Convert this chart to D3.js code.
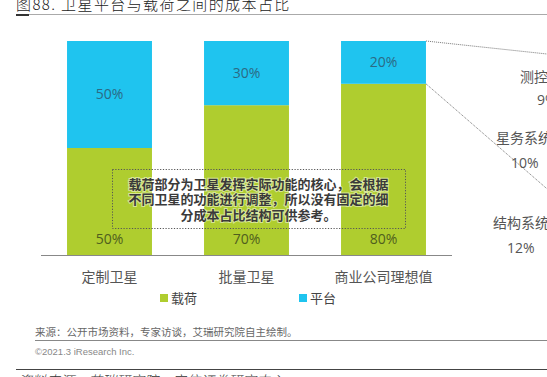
<!DOCTYPE html>
<html>
<head>
<meta charset="utf-8">
<script src="https://cdn.jsdelivr.net/npm/d3@7"></script>
<style>
  html, body { margin: 0; padding: 0; background: #fff; }
  svg { display: block; font-family: "Open Sans", "Noto Sans CJK SC", sans-serif; }
</style>
</head>
<body>
<svg id="chart" width="547" height="377"></svg>
<script>
// data
const categories = ['定制卫星', '批量卫星', '商业公司理想值'];
const payload = [50, 70, 80];    // 载荷
const platform = [50, 30, 20];   // 平台
const seriesNames = ['载荷', '平台'];
const platformParts = ['测控系统', '星务系统', '结构系统'];
const platformPartValues = [9, 10, 12];
const noteLines = [
  '载荷部分为卫星发挥实际功能的核心，会根据',
  '不同卫星的功能进行调整，所以没有固定的细',
  '分成本占比结构可供参考。'
];

const W = 547, H = 377;
const green = '#afcd2f', blue = '#1fc4ef';
const svg = d3.select('#chart');

const x = d3.scaleBand()
  .domain(categories)
  .range([41, 452])
  .paddingInner(0.38)
  .paddingOuter(0.19);
const y = d3.scaleLinear().domain([0, 100]).range([255, 41]);

// title
svg.append('text')
  .attr('x', 16).attr('y', 10)
  .attr('font-family', '"Noto Sans CJK SC", sans-serif')
  .attr('font-weight', 300)
  .attr('font-size', 15)
  .attr('letter-spacing', 1.4)
  .attr('fill', '#222')
  .text('图88. 卫星平台与载荷之间的成本占比');
svg.append('line').attr('x1', 16).attr('x2', W).attr('y1', 14.5).attr('y2', 14.5)
  .attr('stroke', '#aaa').attr('stroke-width', 1);
svg.append('rect').attr('x', 16).attr('y', 14).attr('width', 13).attr('height', 2).attr('fill', '#333');

// stacked bars
const stacked = categories.map((c, i) => ({ cat: c, payload: payload[i], platform: platform[i] }));
const stack = d3.stack().keys(['payload', 'platform'])(stacked);
const colors = { payload: green, platform: blue };

svg.append('g').selectAll('g')
  .data(stack)
  .join('g')
  .attr('fill', d => colors[d.key])
  .selectAll('rect')
  .data(d => d)
  .join('rect')
  .attr('x', d => x(d.data.cat))
  .attr('width', x.bandwidth())
  .attr('y', d => y(d[1]))
  .attr('height', d => y(d[0]) - y(d[1]));

// value labels
svg.append('g').selectAll('text')
  .data(stacked)
  .join('text')
  .attr('x', d => x(d.cat) + x.bandwidth() / 2)
  .attr('y', d => (y(d.payload) + y(100)) / 2)
  .attr('dy', '0.35em')
  .attr('text-anchor', 'middle')
  .attr('font-size', 14)
  .attr('fill', '#2b6a85')
  .text(d => d.platform + '%');
svg.append('g').selectAll('text')
  .data(stacked)
  .join('text')
  .attr('x', d => x(d.cat) + x.bandwidth() / 2)
  .attr('y', y(0) - 16)
  .attr('dy', '0.35em')
  .attr('text-anchor', 'middle')
  .attr('font-size', 14)
  .attr('fill', '#4f5e1e')
  .text(d => d.payload + '%');

// axis
const xAxis = svg.append('g')
  .attr('transform', `translate(0,${y(0)})`)
  .call(d3.axisBottom(x).tickSize(0).tickPadding(17));
xAxis.select('.domain').attr('stroke', '#888').attr('d', `M41,0.5H452`);
xAxis.selectAll('text')
  .attr('font-family', '"Noto Sans CJK SC", sans-serif')
  .attr('font-size', 14).attr('fill', '#555');

// legend
const legendX = [160, 299];
const lg = svg.append('g').selectAll('g')
  .data(seriesNames)
  .join('g')
  .attr('transform', (d, i) => `translate(${legendX[i]},298)`);
lg.append('rect').attr('x', 0).attr('y', -4).attr('width', 8).attr('height', 8)
  .attr('fill', (d, i) => i === 0 ? green : blue);
lg.append('text').attr('x', 11).attr('dy', '0.35em')
  .attr('font-family', '"Noto Sans CJK SC", sans-serif')
  .attr('font-size', 13).attr('fill', '#444')
  .text(d => d);

// note box
svg.append('rect')
  .attr('x', 112.5).attr('y', 169.5).attr('width', 293).attr('height', 59)
  .attr('fill', 'none').attr('stroke', '#555').attr('stroke-width', 1)
  .attr('stroke-dasharray', '1.2,1.6');
svg.append('g').selectAll('text')
  .data(noteLines)
  .join('text')
  .attr('x', 258.5)
  .attr('y', (d, i) => 184 + i * 15.5)
  .attr('dy', '0.35em')
  .attr('text-anchor', 'middle')
  .attr('font-family', '"Noto Sans CJK SC", sans-serif')
  .attr('font-weight', 700)
  .attr('font-size', 13)
  .attr('fill', '#3a3a3a')
  .attr('stroke', 'rgba(255,255,255,0.5)')
  .attr('stroke-width', 2)
  .attr('paint-order', 'stroke')
  .text(d => d);

// connector lines from the 平台 segment of the last bar
const last = categories[categories.length - 1];
const bx = x(last) + x.bandwidth();
svg.append('line')
  .attr('x1', bx).attr('y1', y(100)).attr('x2', W).attr('y2', y(100) + 13)
  .attr('stroke', '#777').attr('stroke-dasharray', '1,1');
svg.append('line')
  .attr('x1', bx).attr('y1', y(payload[2])).attr('x2', W).attr('y2', y(payload[2]) + 105)
  .attr('stroke', '#777').attr('stroke-dasharray', '1,1');

// breakdown labels (cut off at the right edge)
const partPos = [[520, 77, 537, 100], [496, 138, 511, 163], [493, 223, 507, 248]];
const parts = svg.append('g').selectAll('g')
  .data(platformParts)
  .join('g');
parts.append('text')
  .attr('x', (d, i) => partPos[i][0]).attr('y', (d, i) => partPos[i][1]).attr('dy', '0.35em')
  .attr('font-family', '"Noto Sans CJK SC", sans-serif')
  .attr('font-size', 14).attr('fill', '#555')
  .text(d => d);
parts.append('text')
  .attr('x', (d, i) => partPos[i][2]).attr('y', (d, i) => partPos[i][3]).attr('dy', '0.35em')
  .attr('font-size', 14).attr('fill', '#555')
  .text((d, i) => platformPartValues[i] + '%');

// footer
svg.append('text').attr('x', 35).attr('y', 332).attr('dy', '0.35em')
  .attr('font-family', '"Noto Sans CJK SC", sans-serif')
  .attr('font-size', 10.5).attr('fill', '#666')
  .text('来源：公开市场资料，专家访谈，艾瑞研究院自主绘制。');
svg.append('line').attr('x1', 35).attr('x2', W).attr('y1', 340.5).attr('y2', 340.5)
  .attr('stroke', '#888');
svg.append('text').attr('x', 35).attr('y', 352).attr('dy', '0.35em')
  .attr('font-family', '"Liberation Sans", Arial, sans-serif')
  .attr('font-size', 9.5).attr('fill', '#888')
  .text('©2021.3 iResearch Inc.');
svg.append('line').attr('x1', 16).attr('x2', W).attr('y1', 369.5).attr('y2', 369.5)
  .attr('stroke', '#444');
svg.append('text').attr('x', 18).attr('y', 386)
  .attr('font-family', '"Noto Sans CJK SC", serif')
  .attr('font-style', 'italic').attr('font-weight', 300)
  .attr('font-size', 14).attr('fill', '#333')
  .text('资料来源：艾瑞研究院，安信证券研究中心');
</script>
</body>
</html>
